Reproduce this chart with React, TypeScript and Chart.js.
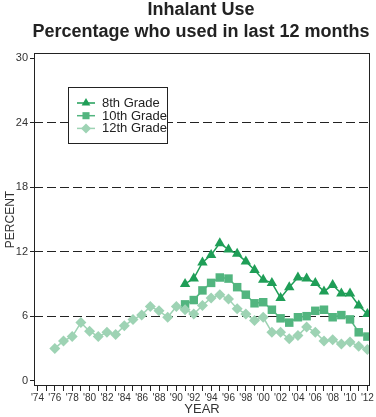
import React, { useEffect, useRef } from "react";
import { Chart, registerables } from "chart.js";

Chart.register(...registerables);

const titleLines = ["Inhalant Use", "Percentage who used in last 12 months"];
const xAxisTitle = "YEAR";
const yAxisTitle = "PERCENT";

const years8and10 = [1991, 1992, 1993, 1994, 1995, 1996, 1997, 1998, 1999, 2000, 2001, 2002, 2003, 2004, 2005, 2006, 2007, 2008, 2009, 2010, 2011, 2012];
const years12 = [1976, 1977, 1978, 1979, 1980, 1981, 1982, 1983, 1984, 1985, 1986, 1987, 1988, 1989, 1990, 1991, 1992, 1993, 1994, 1995, 1996, 1997, 1998, 1999, 2000, 2001, 2002, 2003, 2004, 2005, 2006, 2007, 2008, 2009, 2010, 2011, 2012];

const grade8 = [9.0, 9.5, 11.0, 11.7, 12.8, 12.2, 11.8, 11.1, 10.3, 9.4, 9.1, 7.7, 8.7, 9.6, 9.5, 9.1, 8.3, 8.9, 8.1, 8.1, 7.0, 6.2];
const grade10 = [7.1, 7.5, 8.4, 9.1, 9.6, 9.5, 8.7, 8.0, 7.2, 7.3, 6.6, 5.8, 5.4, 5.9, 6.0, 6.5, 6.6, 5.9, 6.1, 5.7, 4.5, 4.1];
const grade12 = [3.0, 3.7, 4.1, 5.4, 4.6, 4.1, 4.5, 4.3, 5.1, 5.7, 6.1, 6.9, 6.5, 5.9, 6.9, 6.6, 6.2, 7.0, 7.7, 8.0, 7.6, 6.7, 6.2, 5.6, 5.9, 4.5, 4.5, 3.9, 4.2, 5.0, 4.5, 3.7, 3.8, 3.4, 3.6, 3.2, 2.9];

const seriesNames = ["8th Grade", "10th Grade", "12th Grade"];
const seriesColors = ["#1f9e57", "#52b57f", "#9ed3b4"];
const seriesShapes = ["triangle", "rect", "rectRot"];

const xTickYears = [1974, 1975, 1976, 1977, 1978, 1979, 1980, 1981, 1982, 1983, 1984, 1985, 1986, 1987, 1988, 1989, 1990, 1991, 1992, 1993, 1994, 1995, 1996, 1997, 1998, 1999, 2000, 2001, 2002, 2003, 2004, 2005, 2006, 2007, 2008, 2009, 2010, 2011, 2012];
const yTickValues = [0, 6, 12, 18, 24, 30];

const FONT = '"Liberation Sans", Arial, Helvetica, sans-serif';

function drawShape(ctx: CanvasRenderingContext2D, shape: string, x: number, y: number, r: number) {
  ctx.beginPath();
  if (shape === "triangle") {
    ctx.moveTo(x, y - r);
    ctx.lineTo(x + r * Math.sin((2 * Math.PI) / 3), y + r * 0.5);
    ctx.lineTo(x - r * Math.sin((2 * Math.PI) / 3), y + r * 0.5);
  } else if (shape === "rect") {
    const s = r * Math.SQRT1_2;
    ctx.rect(x - s, y - s, 2 * s, 2 * s);
  } else {
    ctx.moveTo(x, y - r);
    ctx.lineTo(x + r, y);
    ctx.lineTo(x, y + r);
    ctx.lineTo(x - r, y);
  }
  ctx.closePath();
  ctx.fill();
}

const decorPlugin = {
  id: "decor",
  beforeDraw(chart: any) {
    const { ctx, width, height } = chart;
    ctx.save();
    ctx.fillStyle = "#ffffff";
    ctx.fillRect(0, 0, width, height);
    ctx.fillStyle = "#222222";
    ctx.font = `bold 18px ${FONT}`;
    ctx.textAlign = "center";
    ctx.textBaseline = "alphabetic";
    titleLines.forEach((t, i) => ctx.fillText(t, 201, 15 + i * 22));
    ctx.restore();
  },
  afterDatasetsDraw(chart: any) {
    const { ctx, chartArea: ca } = chart;
    ctx.save();
    ctx.strokeStyle = "#222222";
    ctx.lineWidth = 1;
    const l = Math.round(ca.left) + 0.5;
    const t = Math.round(ca.top) + 0.5;
    const r = Math.round(ca.right) - 0.5;
    const b = Math.round(ca.bottom) - 0.5;
    ctx.strokeRect(l, t, r - l, b - t);

    // legend
    const lx = 68.5, ly = 87.5, lw = 99, lh = 56;
    ctx.fillStyle = "#ffffff";
    ctx.fillRect(lx, ly, lw, lh);
    ctx.strokeRect(lx, ly, lw, lh);
    ctx.font = `13px ${FONT}`;
    ctx.textAlign = "left";
    ctx.textBaseline = "middle";
    seriesNames.forEach((name, i) => {
      const cy = 103 + i * 12.7;
      ctx.strokeStyle = seriesColors[i];
      ctx.lineWidth = 1.5;
      ctx.beginPath();
      ctx.moveTo(77, cy);
      ctx.lineTo(95, cy);
      ctx.stroke();
      ctx.fillStyle = seriesColors[i];
      drawShape(ctx, seriesShapes[i], 86, cy, 5);
      ctx.fillStyle = "#222222";
      ctx.fillText(name, 102, cy + 0.5);
    });
    ctx.restore();
  },
};

export default function App() {
  const ref = useRef<HTMLCanvasElement | null>(null);

  useEffect(() => {
    if (!ref.current) return;
    Chart.defaults.font.family = FONT;
    const mk = (xs: number[], ys: number[]) => xs.map((x, i) => ({ x, y: ys[i] }));
    const allData = [mk(years8and10, grade8), mk(years8and10, grade10), mk(years12, grade12)];
    const radii = [6, 6, 5.5];
    const chart = new Chart(ref.current, {
      type: "line",
      data: {
        datasets: seriesNames.map((name, i) => ({
          label: name,
          data: allData[i],
          borderColor: seriesColors[i],
          backgroundColor: seriesColors[i],
          borderWidth: 1.5,
          pointStyle: seriesShapes[i] as any,
          pointRadius: radii[i],
          pointBorderWidth: 0,
          pointBackgroundColor: seriesColors[i],
          pointBorderColor: seriesColors[i],
          tension: 0,
          order: 3 - i,
        })),
      },
      options: {
        animation: false,
        responsive: false,
        layout: { padding: { top: 53, right: 2, left: 0, bottom: 0 } },
        plugins: {
          legend: { display: false },
          title: { display: false },
          tooltip: { enabled: false },
        },
        scales: {
          x: {
            type: "linear",
            min: 1973.6,
            max: 2012.3,
            afterBuildTicks: (s: any) => {
              s.ticks = xTickYears.map((v) => ({ value: v }));
            },
            afterFit: (s: any) => {
              s.height = 31;
              s.paddingLeft = 0;
              s.paddingRight = 0;
            },
            ticks: {
              autoSkip: false,
              maxRotation: 0,
              minRotation: 0,
              padding: 1,
              color: "#333333",
              font: { size: 10, family: FONT },
              callback: (v: any) => {
                const n = Number(v);
                return n % 2 === 0 ? "'" + String(n % 100).padStart(2, "0") : "";
              },
            },
            grid: {
              drawOnChartArea: false,
              drawTicks: true,
              tickLength: 5,
              tickColor: "#222222",
              tickWidth: 1,
            },
            border: { display: false },
            title: {
              display: true,
              text: xAxisTitle,
              color: "#333333",
              font: { size: 13, family: FONT },
              padding: { top: 0, bottom: 0 },
            },
          },
          y: {
            type: "linear",
            min: -0.5,
            max: 30.5,
            afterBuildTicks: (s: any) => {
              s.ticks = yTickValues.map((v) => ({ value: v }));
            },
            afterFit: (s: any) => {
              s.width = 34;
            },
            ticks: {
              padding: 2,
              color: "#333333",
              font: { size: 11, family: FONT },
            },
            grid: {
              color: (c: any) => (c.tick && (c.tick.value === 0 || c.tick.value === 30) ? "rgba(0,0,0,0)" : "#222222"),
              lineWidth: 1,
              tickLength: 4,
              tickColor: "#222222",
              tickBorderDash: [],
            },
            border: { display: false, dash: [9, 4] },
            title: {
              display: true,
              text: yAxisTitle,
              color: "#333333",
              font: { size: 12, family: FONT },
              padding: { top: 3, bottom: 0 },
            },
          },
        },
      },
      plugins: [decorPlugin],
    } as any);
    return () => chart.destroy();
  }, []);

  return (
    <div style={{ position: "absolute", left: 0, top: 0, width: 376, height: 417 }}>
      <canvas ref={ref} width={376} height={417} style={{ display: "block" }} />
    </div>
  );
}
